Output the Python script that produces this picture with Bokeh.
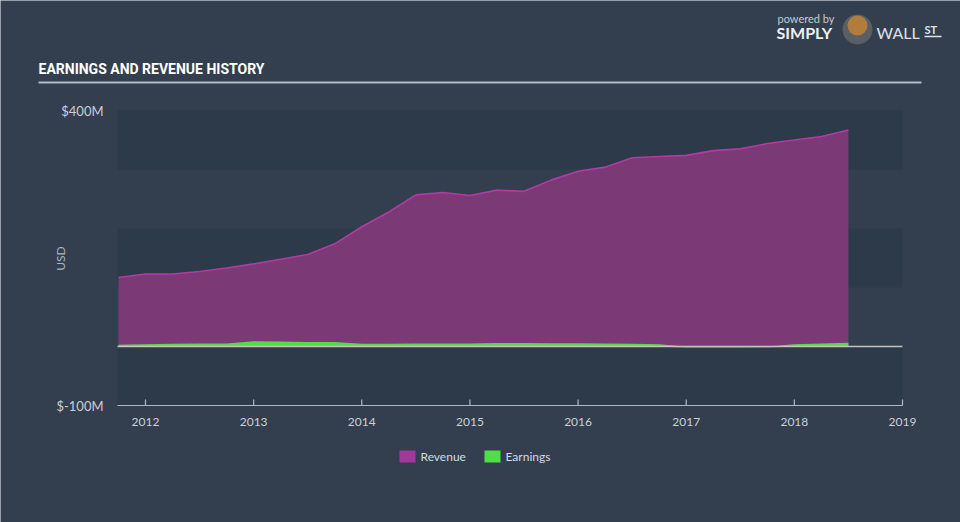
import math
from bokeh.plotting import figure
from bokeh.models import Range1d, ColumnDataSource
from bokeh.core.properties import value
from bokeh.embed import file_html
from bokeh.resources import INLINE

# ---------------- data ----------------
dates = [2011.75, 2012.0, 2012.25, 2012.5, 2012.75, 2013.0, 2013.25, 2013.5, 2013.75,
         2014.0, 2014.25, 2014.5, 2014.75, 2015.0, 2015.25, 2015.5, 2015.75,
         2016.0, 2016.25, 2016.5, 2016.75, 2017.0, 2017.25, 2017.5, 2017.75,
         2018.0, 2018.25, 2018.5]
revenue = [117, 123, 123, 127, 133, 140, 148, 156, 174,
           203, 228, 257, 261, 256, 265, 263, 282,
           297, 304, 320, 322, 324, 332, 335, 344,
           350, 356, 367]
earnings = [3, 4, 4.5, 5, 5, 9, 8.5, 7.5, 7.5,
            4.5, 4.5, 5, 5, 5, 6, 6, 5.5,
            5.5, 5, 4.5, 4, -2, -2, -2, -1.5,
            4, 5, 6.5]
year_ticks = [2012, 2013, 2014, 2015, 2016, 2017, 2018, 2019]
year_labels = ["2012", "2013", "2014", "2015", "2016", "2017", "2018", "2019"]
y_ticks = [400, -100]
y_tick_labels = ["$400M", "$-100M"]
series_names = ["Revenue", "Earnings"]
band_bottoms = [300, 100, -100]
band_tops = [400, 200, 0]
title_text = "EARNINGS AND REVENUE HISTORY"
y_axis_title = "USD"

# ---------------- layout (pixel geometry) ----------------
W, H = 960, 522
FL, FR, FT, FB = 117, 902, 110, 405          # plot area in page pixels
X2012_PX = 145
KX = (FR - X2012_PX) / 7.0                   # px per year
KY = (FB - FT) / 500.0                       # px per million
X0 = 2012 - X2012_PX / KX
X1 = 2019 + (W - FR) / KX
Y1 = 400 + FT / KY
Y0 = -100 - (H - FB) / KY

BG = "#333f4e"
BAND = "#2d3a49"
TXT = "#c9d0d8"
AXIS = "#aeb9c4"
REV_FILL = "#7b3a76"
REV_LINE = "#b23aa2"
REV_SWATCH = "#a2389c"
EARN = "#52dc4c"
NEG = "#e0505c"

p = figure(width=W, height=H, output_backend="svg", toolbar_location=None,
           x_range=Range1d(X0, X1), y_range=Range1d(Y0, Y1),
           x_axis_location=None, y_axis_location=None, min_border=0)
p.extra_x_ranges = {"px": Range1d(0, W)}
p.extra_y_ranges = {"px": Range1d(H, 0)}
p.background_fill_color = BG
p.border_fill_color = BG
p.outline_line_color = None
p.grid.visible = False

# bands in plot area
p.quad(left=FL, right=FR, bottom=band_bottoms, top=band_tops, x_range_name="px",
       fill_color=BAND, line_color=None)

pos_e = [max(e, 0) for e in earnings]
neg_e = [min(e, 0) for e in earnings]
src = ColumnDataSource(dict(x=dates, rev=revenue, pos=pos_e, neg=neg_e,
                            zero=[0] * len(dates)))

p.varea(x="x", y1="zero", y2="rev", source=src, fill_color=REV_FILL)
p.line(x="x", y="rev", source=src, line_color=REV_LINE, line_width=1.6)
p.varea(x="x", y1="zero", y2="pos", source=src, fill_color=EARN)
p.varea(x="x", y1="neg", y2="zero", source=src, fill_color=NEG)

# zero line across plot area
p.segment(x0=[FL], x1=[FR], y0=[0], y1=[0], x_range_name="px",
          line_color="#c4c3bb", line_width=1.5)

# x axis
p.segment(x0=[FL], x1=[FR], y0=[FB], y1=[FB], x_range_name="px", y_range_name="px",
          line_color=AXIS, line_width=1.2)
p.segment(x0=year_ticks, x1=year_ticks, y0=[FB - 6] * len(year_ticks),
          y1=[FB] * len(year_ticks), y_range_name="px", line_color=AXIS, line_width=1.2)
p.text(x=year_ticks, y=[FB + 16] * len(year_ticks), text=year_labels, y_range_name="px",
       text_align="center", text_baseline="middle", text_color=TXT,
       text_font=value("Lato"), text_font_size="12px")

# y axis labels
p.text(x=[FL - 14] * len(y_ticks), y=y_ticks, text=y_tick_labels, x_range_name="px",
       text_align="right", text_baseline="middle", text_color=TXT,
       text_font=value("Lato"), text_font_size="13px")
p.text(x=[60], y=[258], text=[y_axis_title], x_range_name="px", y_range_name="px",
       angle=math.pi / 2, text_align="center", text_baseline="middle",
       text_color="#aab3bd", text_font=value("Lato"), text_font_size="12px")

# title + underline
p.text(x=[38], y=[68], text=[title_text], x_range_name="px", y_range_name="px",
       text_baseline="middle", text_color="#ffffff",
       text_font=value("Roboto"), text_font_style="bold",
       text_font_size="14px")
p.segment(x0=[38], x1=[921], y0=[82], y1=[82], x_range_name="px", y_range_name="px",
          line_color="#b4bcc6", line_width=2)

# logo
p.text(x=[777], y=[18], text=["powered by"], x_range_name="px", y_range_name="px",
       text_baseline="middle", text_color="#c4cbd2", text_font=value("Lato"),
       text_font_size="11px")
p.text(x=[776], y=[32], text=["SIMPLY"], x_range_name="px", y_range_name="px",
       text_baseline="middle", text_color="#eef1f4", text_font=value("Lato"),
       text_font_style="bold", text_font_size="16px")
p.scatter(x=[857], y=[29], size=30, x_range_name="px", y_range_name="px",
          marker="circle", fill_color="#5a5f66", line_color=None)
p.scatter(x=[857], y=[25], size=20, x_range_name="px", y_range_name="px",
          marker="circle", fill_color="#b27c3c", line_color=None)
p.text(x=[876], y=[32], text=["WALL"], x_range_name="px", y_range_name="px",
       text_baseline="middle", text_color="#dfe3e7", text_font=value("Lato"),
       text_font_size="16px")
p.text(x=[924], y=[29], text=["ST"], x_range_name="px", y_range_name="px",
       text_baseline="middle", text_color="#dfe3e7", text_font=value("Lato"),
       text_font_style="bold", text_font_size="11px")
p.segment(x0=[924], x1=[941], y0=[36], y1=[36], x_range_name="px", y_range_name="px",
          line_color="#dfe3e7", line_width=1.5)

# legend
sw_left = [399, 484]
p.quad(left=sw_left, right=[x + 16 for x in sw_left], top=[450, 450], bottom=[462, 462],
       x_range_name="px", y_range_name="px",
       fill_color=[REV_SWATCH, EARN], line_color=None)
p.text(x=[x + 21 for x in sw_left], y=[456, 456], text=series_names,
       x_range_name="px", y_range_name="px", text_baseline="middle",
       text_color="#d4dae0", text_font=value("Lato"), text_font_size="12px")

open("out.html", "w").write(file_html(p, INLINE))
